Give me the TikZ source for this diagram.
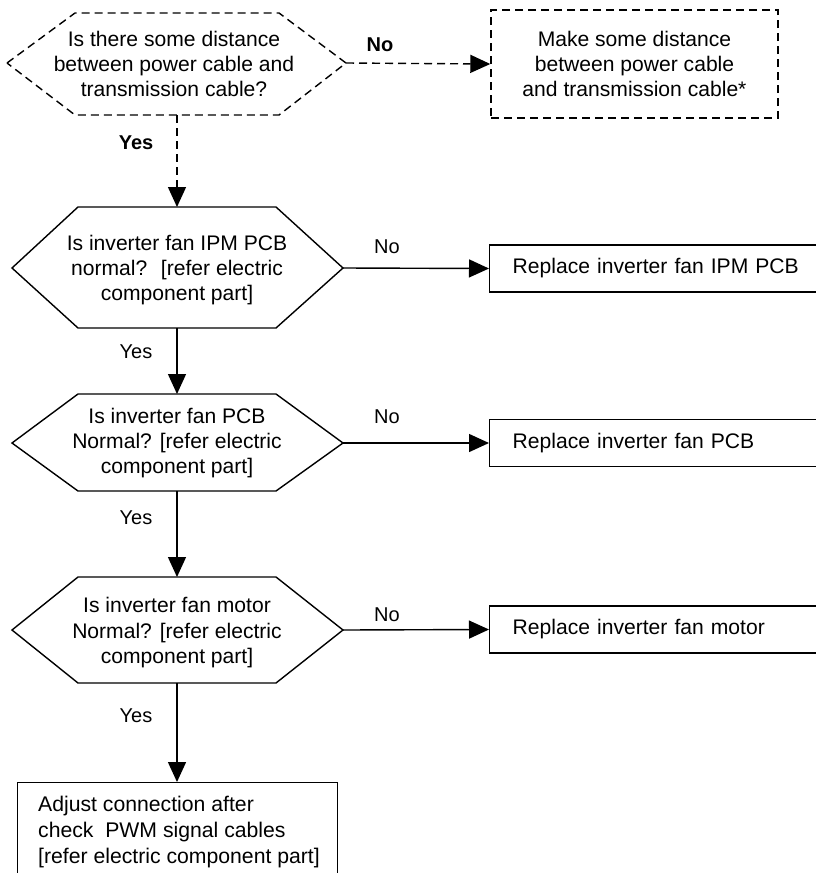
\documentclass[tikz,border=0pt]{standalone}
\usepackage{fontspec}
\setmainfont{Liberation Sans}
\usetikzlibrary{arrows.meta}
\newcommand{\fsz}[2]{\fontsize{#1}{#2}\selectfont}
\begin{document}
\begin{tikzpicture}[x=1pt,y=-1pt,
  ln/.style={line width=1.4pt},
  arr/.style={ln,-{Triangle[length=20pt,width=18pt]}},
  dsh/.style={dash pattern=on 8pt off 5pt},
  hexs/.style={ln,line join=miter},
  txt/.style={align=center,inner sep=0pt,font=\fsz{21.1}{25}},
  lbl/.style={font=\fsz{20}{24},inner sep=0pt},
  boxr/.style={draw,ln,rectangle,font=\fsz{21.1}{24},align=left,
     text width=340pt,inner xsep=23pt,inner ysep=0pt,minimum height=47pt,anchor=west}
]
\useasboundingbox (0,0) rectangle (816,873);
\clip (0,0) rectangle (816,873);

% hexagon 1 (dashed)
\draw[hexs,dsh] (7,63) -- (75,13) -- (279,13) -- (346,63) -- (279,115) -- (75,115) -- cycle;
\node[txt] (h1) at (174,64) {Is there some distance\\between power cable and\\transmission cable?};
\coordinate (h1r) at (346,63);
\coordinate (h1b) at (177,115);

% dashed box
\node[draw,ln,dsh,rectangle,minimum width=287pt,minimum height=108pt,txt] (d1) at (634.5,64)
  {Make some distance\\between power cable\\and transmission cable*};

% hexagon 2
\draw[hexs] (12,268) -- (78,207) -- (276,207) -- (343,268) -- (276,328) -- (78,328) -- cycle;
\node[txt] (h2) at (177,270) {Is inverter fan IPM PCB\\normal?~ {[}refer electric\\component part{]}};
\coordinate (h2t) at (177,207);
\coordinate (h2r) at (343,268);
\coordinate (h2b) at (177,328);

% hexagon 3
\draw[hexs] (12,443) -- (78,394) -- (276,394) -- (343,443) -- (276,491) -- (78,491) -- cycle;
\node[txt] (h3) at (177,443) {Is inverter fan PCB\\Normal? {[}refer electric\\component part{]}};
\coordinate (h3t) at (177,394);
\coordinate (h3r) at (343,443);
\coordinate (h3b) at (177,491);

% hexagon 4
\draw[hexs] (12,630) -- (78,577) -- (276,577) -- (343,630) -- (276,683) -- (78,683) -- cycle;
\node[txt,font=\fsz{21.1}{25.5}] (h4) at (177,633) {Is inverter fan motor\\Normal? {[}refer electric\\component part{]}};
\coordinate (h4t) at (177,577);
\coordinate (h4r) at (343,630);
\coordinate (h4b) at (177,683);

% boxes on the right
\node[boxr] (b2) at (489,268.5) {Replace inverter fan IPM PCB};
\node[boxr] (b3) at (489,443) {Replace inverter fan PCB};
\node[boxr] (b4) at (489,629.5) {Replace inverter fan motor};

% final box
\node[draw,ln,rectangle,minimum width=320pt,minimum height=100pt,anchor=north west,inner sep=0pt] (f) at (17,782) {};
\node[align=left,inner sep=0pt,anchor=north west,font=\fsz{21.2}{26}] (ft) at (38,796)
  {Adjust connection after\\check~ PWM signal cables\\{[}refer electric component part{]}};

% connectors
\draw[arr,dsh] (h1r) -- (d1.west);
\draw[arr,dsh] (h1b) -- (h2t);
\draw[arr] (h2r) -- (b2.west);
\draw[arr] (h2b) -- (h3t);
\draw[arr] (h3r) -- (b3.west);
\draw[arr] (h3b) -- (h4t);
\draw[arr] (h4r) -- (b4.west);
\draw[arr] (h4b) -- (f.north -| h4b);

% labels
\node[lbl,font=\fsz{20}{24}\bfseries] (n1) at (380,45) {No};
\node[lbl,font=\fsz{20}{24}\bfseries] (y1) at (136,143) {Yes};
\node[lbl] (n2) at (387,247) {No};
\node[lbl] (y2) at (136,352) {Yes};
\node[lbl] (n3) at (387,417) {No};
\node[lbl] (y3) at (136,518) {Yes};
\node[lbl] (n4) at (387,615) {No};
\node[lbl] (y4) at (136,716) {Yes};
\end{tikzpicture}
\end{document}
